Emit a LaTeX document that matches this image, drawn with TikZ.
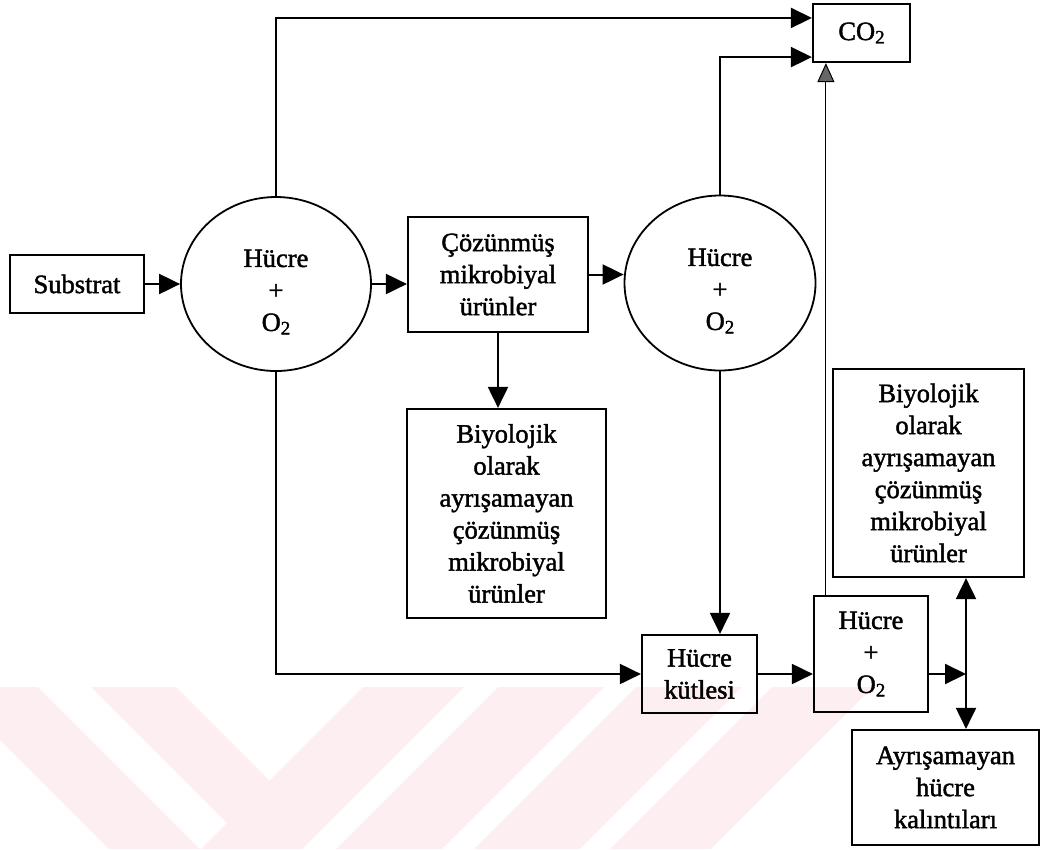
\documentclass[tikz,border=0pt]{standalone}
\usepackage{fontspec}
\setmainfont{Liberation Serif}[FakeBold=1.6]
\usetikzlibrary{arrows.meta,shapes.geometric,calc}
\definecolor{wmpink}{RGB}{253,238,241}
% subscript two, set a little larger and lower than \textsubscript
\newcommand{\subtwo}{\raisebox{-0.28ex}{\fontsize{19}{19}\selectfont 2}}
\tikzset{
  every node/.style={font=\fontsize{26.5}{32}\selectfont},
  box/.style={draw, line width=2.2pt, align=center, inner sep=0pt},
  cell/.style={draw, ellipse, line width=1.8pt, inner sep=0pt},
  lbl/.style={align=center, inner sep=0pt},
  flow/.style={line width=2pt, -{Triangle[length=21pt,width=20pt]}},
  thinflow/.style={line width=1pt, -{Triangle[length=19pt,width=17pt,fill=black!60]}},
  stripe/.style={fill=wmpink, draw=none},
}
\begin{document}
\begin{tikzpicture}[x=1pt,y=-1pt]
\useasboundingbox (0,0) rectangle (1051,849);

% background stripes along the lower edge
\begin{scope}
  \clip (0,687) rectangle (1051,849);
  \fill[stripe] (-53,687) -- (38,687) -- (200,849) -- (109,849) -- cycle;
  \fill[stripe] (91,687) -- (176,687) -- (269.5,780.5) -- (227,823) -- cycle;
  \fill[stripe] (363,687) -- (464,687) -- (302,849) -- (201,849) -- cycle;
  \fill[stripe] (498,687) -- (604,687) -- (442,849) -- (336,849) -- cycle;
  \fill[stripe] (636,687) -- (742,687) -- (580,849) -- (474,849) -- cycle;
  \fill[stripe] (772,687) -- (873,687) -- (711,849) -- (610,849) -- cycle;
\end{scope}

% process blocks
\node[box, minimum width=134pt, minimum height=58pt] (sub) at (77,284) {Substrat};
\node[cell, minimum width=190pt, minimum height=174pt] (c1) at (276,284) {};
\node[lbl] (c1t) at (276,292) {Hücre\\+\\O\subtwo};
\node[box, minimum width=180pt, minimum height=115pt] (coz) at (498,274.5) {Çözünmüş\\mikrobiyal\\ürünler};
\node[cell, minimum width=191pt, minimum height=175pt] (c2) at (720,283) {};
\node[lbl] (c2t) at (720,291) {Hücre\\+\\O\subtwo};
\node[box, minimum width=199pt, minimum height=209pt] (b1) at (506.5,513.5)
  {Biyolojik\\olarak\\ayrışamayan\\çözünmüş\\mikrobiyal\\ürünler};
\node[box, minimum width=97pt, minimum height=58pt] (co2) at (861.5,33) {CO\subtwo};
\node[box, minimum width=115pt, minimum height=78pt] (kut) at (699.5,674) {Hücre\\kütlesi};
\node[box, minimum width=114pt, minimum height=116pt] (ho2) at (871,654) {Hücre\\+\\O\subtwo};
\node[box, minimum width=191pt, minimum height=208pt] (b2) at (928.5,473)
  {Biyolojik\\olarak\\ayrışamayan\\çözünmüş\\mikrobiyal\\ürünler};
\node[box, minimum width=187pt, minimum height=115pt] (ayr) at (945.5,787.5)
  {Ayrışamayan\\hücre\\kalıntıları};

% helper points
\coordinate (co2a) at ($(co2.north west)!0.25!(co2.south west)$);
\coordinate (co2b) at ($(co2.north west)!0.9!(co2.south west)$);
\coordinate (up) at ($(ho2.north west)+(13,0)$);
\coordinate (j) at (966,674);

% flows
\draw[flow] (sub.east) -- (c1.west);
\draw[flow] (c1.east) -- (c1.east -| coz.west);
\draw[flow] (coz.east) -- (coz.east -| c2.west);
\draw[flow] (coz.south) -- (coz.south |- b1.north);
\draw[flow] (c1.north) |- (co2a);
\draw[flow] (c2.north) |- (co2b);
\draw[thinflow] (up) -- (up |- co2.south);
\draw[flow] (c1.south) |- (kut.west);
\draw[flow] (c2.south) -- (c2.south |- kut.north);
\draw[flow] (kut.east) -- (kut.east -| ho2.west);
\draw[flow] (kut.east -| ho2.east) -- (j);
\draw[flow] (j) -- (j |- b2.south);
\draw[flow] (j) -- (j |- ayr.north);
\end{tikzpicture}
\end{document}
